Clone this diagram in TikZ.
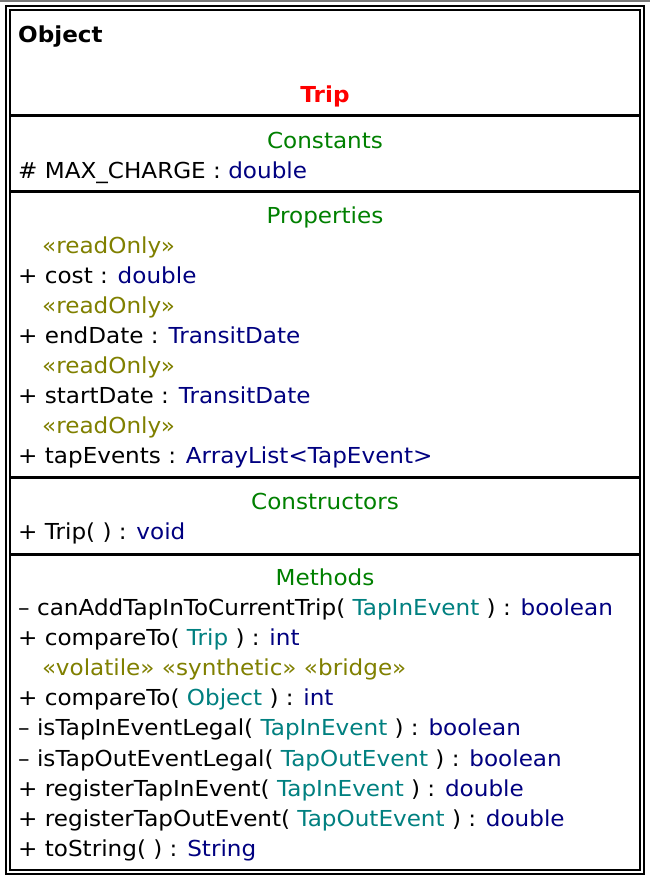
\documentclass[tikz,border=0pt]{standalone}
\usepackage{fontspec}
\setmainfont[FakeStretch=1.05]{DejaVu Sans}
\definecolor{umlgreen}{RGB}{0,128,0}
\definecolor{umlnavy}{RGB}{0,0,128}
\definecolor{umlteal}{RGB}{0,128,128}
\definecolor{umlolive}{RGB}{128,128,0}
\definecolor{umlred}{RGB}{255,0,0}
\definecolor{topgray}{RGB}{120,120,120}
\newcommand{\ty}[1]{\textcolor{umlnavy}{#1}}
\newcommand{\pa}[1]{\textcolor{umlteal}{#1}}
\begin{document}
\begin{tikzpicture}[x=1pt,y=-1pt,
  txt/.style={anchor=base west, inner sep=0pt, font=\fontsize{22}{26}\selectfont},
  stereo/.style={txt, text=umlolive},
  hdr/.style={anchor=base, inner sep=0pt, font=\fontsize{22}{26}\selectfont, text=umlgreen},
  frame/.style={line width=2pt},
  sep/.style={line width=3.8pt}]
\useasboundingbox (0,0) rectangle (650,878);
\fill[white] (0,0) rectangle (650,878);
\fill[topgray] (0,0) rectangle (650,2);
\draw[frame] (6,6) rectangle (644,874);
\draw[frame] (10,10) rectangle (640,870);
\draw[sep] (10,115.5) -- (640,115.5);
\draw[sep] (10,191.5) -- (640,191.5);
\draw[sep] (10,477.5) -- (640,477.5);
\draw[sep] (10,554.5) -- (640,554.5);
% header
\node[txt, font=\fontsize{22}{26}\selectfont\bfseries] (object) at (18,42) {Object};
\node[anchor=base, inner sep=0pt, font=\fontsize{22}{26}\selectfont\bfseries, text=umlred] (trip) at (325,102) {Trip};
% constants
\node[hdr] (hconst) at (325,148) {Constants};
\node[txt] (maxc) at (18,178) {\# MAX\_CHARGE : \ty{double}};
% properties
\node[hdr] (hprop) at (325,223) {Properties};
\node[stereo] (ro1) at (42,253) {«readOnly»};
\node[txt] (cost) at (18,283) {+ cost : \ty{double}};
\node[stereo] (ro2) at (42,313) {«readOnly»};
\node[txt] (endd) at (18,343) {+ endDate : \ty{TransitDate}};
\node[stereo] (ro3) at (42,373) {«readOnly»};
\node[txt] (startd) at (18,403) {+ startDate : \ty{TransitDate}};
\node[stereo] (ro4) at (42,433) {«readOnly»};
\node[txt] (tapev) at (18,463) {+ tapEvents : \ty{ArrayList<TapEvent>}};
% constructors
\node[hdr] (hcons) at (325,509) {Constructors};
\node[txt] (ctor) at (18,539) {+ Trip( ) : \ty{void}};
% methods
\node[hdr] (hmeth) at (325,585) {Methods};
\node[txt] (m1) at (18,615) {– canAddTapInToCurrentTrip( \pa{TapInEvent} ) : \ty{boolean}};
\node[txt] (m2) at (18,645) {+ compareTo( \pa{Trip} ) : \ty{int}};
\node[stereo] (m3s) at (42,675) {«volatile» «synthetic» «bridge»};
\node[txt] (m3) at (18,705) {+ compareTo( \pa{Object} ) : \ty{int}};
\node[txt] (m4) at (18,735) {– isTapInEventLegal( \pa{TapInEvent} ) : \ty{boolean}};
\node[txt] (m5) at (18,766) {– isTapOutEventLegal( \pa{TapOutEvent} ) : \ty{boolean}};
\node[txt] (m6) at (18,796) {+ registerTapInEvent( \pa{TapInEvent} ) : \ty{double}};
\node[txt] (m7) at (18,826) {+ registerTapOutEvent( \pa{TapOutEvent} ) : \ty{double}};
\node[txt] (m8) at (18,856) {+ toString( ) : \ty{String}};
\end{tikzpicture}
\end{document}
